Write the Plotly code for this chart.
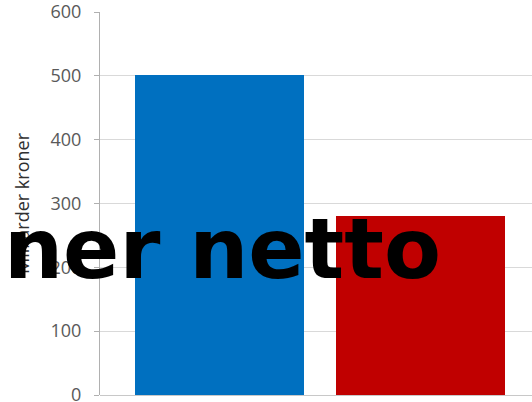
import plotly.graph_objects as go

categories = ["A", "B"]
values = [502, 281]
colors = ["#0070C0", "#C00000"]
y_ticks = [0, 100, 200, 300, 400, 500, 600]
y_title = "Milliarder kroner"
overlay_text = "ner netto"

W, H = 532, 402
ml, mr, mt, mb = 100, 0, 12, 7
pw = W - ml - mr
ph = H - mt - mb

fig = go.Figure()
fig.add_trace(go.Bar(
    x=categories, y=values, marker_color=colors, marker_line_width=0,
    width=0.84, showlegend=False,
))

band = 201.0
r0 = -119.5 / band
r1 = r0 + pw / band

fig.update_layout(
    width=W, height=H,
    margin=dict(l=ml, r=mr, t=mt, b=mb, pad=0, autoexpand=False),
    plot_bgcolor="white", paper_bgcolor="white",
    font=dict(family="Open Sans, Liberation Sans, sans-serif", color="#595959"),
    xaxis=dict(range=[r0, r1], showticklabels=False, showgrid=False,
               zeroline=False, showline=False, ticks="", automargin=False),
    yaxis=dict(range=[0, 600], tickvals=y_ticks, showgrid=True, automargin=False,
               gridcolor="#d9d9d9", gridwidth=1, zeroline=True,
               zerolinecolor="#c8c8c8", zerolinewidth=1,
               showline=True, linecolor="#b0b0b0", linewidth=1,
               ticks="outside", ticklen=5, tickcolor="#b0b0b0",
               ticklabelstandoff=9, ticklabeloverflow="allow",
               tickfont=dict(size=18, color="#595959",
                             family="Open Sans, Liberation Sans, sans-serif"),
               title=dict(text=y_title, standoff=16,
                          font=dict(size=18, color="#303030",
                                    family="Open Sans, Liberation Sans, sans-serif"))),
    bargap=0,
)

fig.add_annotation(
    text=overlay_text, xref="paper", yref="paper",
    x=(2 - ml) / pw, y=(mt + ph - 300) / ph,
    xanchor="left", yanchor="bottom", showarrow=False,
    font=dict(family="DejaVu Sans", size=83, color="black", weight="bold"),
)

fig.write_html(
    "out.html",
    config={"displayModeBar": False},
    post_script="document.body.style.margin='0';document.body.style.overflow='hidden';",
)
